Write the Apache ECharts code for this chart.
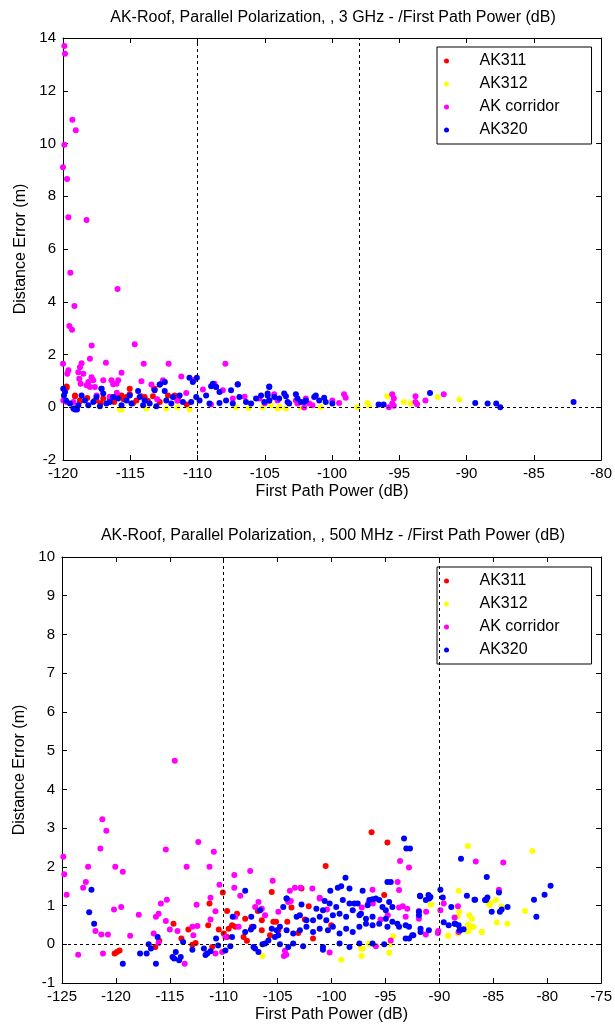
<!DOCTYPE html>
<html>
<head>
<meta charset="utf-8">
<script src="https://cdn.jsdelivr.net/npm/echarts@6/dist/echarts.min.js"></script>
<style>
	html, body { margin: 0; padding: 0; background: #fff; }
	#main { width: 615px; height: 1028px; }
</style>
</head>
<body>
<div id="main"></div>
<script>
var names = ['AK311', 'AK312', 'AK corridor', 'AK320'];
var colors = ['#ff0000', '#ffff00', '#ff00ff', '#0000ff'];

// 3 GHz plot
var top311 = [[-119.73,0.79],[-119.11,0.42],[-118.74,0.26],[-117.51,0.26],[-117.01,0.33],[-116.52,0.33],[-116.02,0.39],[-115.65,0.45],
	[-115.28,0.39],[-115.04,0.7],[-114.54,0.26],[-113.93,0.39],[-113.31,0.42],[-113.19,0.7],[-112.81,0.2],[-111.7,0.39],[-111.46,0.33],
	[-115.04,0.49],[-118.74,0.23],[-117.63,0.26],[-116.52,0.39],[-113.23,0.7],[-111.7,0.45],[-119.11,0.45],[-119.73,0.74],
	[-118.2,0.35],[-117.2,0.15],[-116.2,0.2],[-114.8,0.15],[-113.7,0.25],[-112.2,0.45],[-110.8,0.1],[-114.2,0.42],[-115.5,0.3]];
var top312 = [[-115.78,-0.09],[-113.8,-0.05],[-112.32,-0.05],[-110.6,-0.09],[-107.14,0.0],[-105.16,0.0],[-104.54,0.08],[-104.05,-0.05],
	[-103.43,-0.05],[-102.32,0.0],[-100.84,0.0],[-98.12,0.0],[-97.38,0.16],[-97.26,0.08],[-95.9,0.42],[-94.67,0.2],[-94.17,0.14],
	[-92.15,0.39],[-90.54,0.29],[-115.65,-0.09],[-111.5,0.0],[-106.2,-0.03],[-103.9,0.02]];
var topCorridor = [[-119.9,13.7],[-119.85,13.4],[-119.3,10.9],[-119.05,10.5],[-119.9,9.95],[-120,9.1],[-119.7,8.65],[-119.6,7.2],[-118.25,7.1],
	[-119.45,5.1],[-115.95,4.48],[-119.15,3.84],[-119.53,3.08],[-119.33,2.94],[-117.87,2.34],[-114.67,2.39],
	[-120.0,1.65],[-119.6,1.4],[-119.68,1.27],[-118.62,1.67],[-118.74,1.52],[-118.86,1.33],[-118.49,1.27],[-118.79,1.08],[-118.69,0.89],
	[-118.0,1.84],[-116.81,1.69],[-115.65,1.31],[-114.0,1.65],[-112.15,1.65],[-117.88,1.14],[-117.75,1.02],[-118.12,0.96],[-118.0,0.77],
	[-117.63,0.77],[-118.25,0.83],[-117.01,1.02],[-116.4,1.02],[-116.27,0.87],[-115.9,1.02],[-116.02,0.89],[-114.17,0.99],[-113.43,0.86],
	[-112.57,1.02],[-112.44,0.96],[-111.21,1.17],[-110.22,1.04],[-109.6,0.67],[-107.93,1.65],[-108.74,0.89],[-108.62,0.77],[-108.12,0.64],
	[-119.98,0.26],[-119.73,0.2],[-119.23,0.2],[-116.52,0.39],[-110.84,0.54],[-107.38,0.33],[-105.41,0.33],
	[-117.5,0.45],[-116.0,0.55],[-113.0,0.3],[-111.5,0.25],[-106.5,0.4],[-105.0,0.15],[-109.0,0.1],
	[-104.3,0.49],[-104.05,0.26],[-102.69,0.26],[-102.57,0.14],[-101.95,0.33],[-102.07,-0.01],[-101.7,0.14],[-101.46,0.08],[-99.98,0.26],
	[-99.48,0.16],[-99.11,0.49],[-98.99,0.36],[-95.78,0.0],[-95.53,0.49],[-95.41,0.33],[-95.53,0.14],[-93.8,0.42],[-93.8,0.2],[-93.68,0.11],
	[-93.06,0.26],[-91.7,0.49],[-95.41,0.06]];
var top320 = [[-119.98,0.7],[-119.85,0.58],[-119.93,0.45],[-119.78,0.26],[-119.23,-0.05],[-119.11,-0.09],[-118.62,0.45],[-118.37,0.26],
	[-117.75,0.2],[-117.51,0.39],[-117.14,0.7],[-117.01,0.52],[-116.52,0.2],[-116.27,0.39],[-115.9,0.33],[-115.28,0.26],[-115.04,0.45],
	[-114.42,0.62],[-114.3,0.39],[-113.93,0.26],[-113.56,0.14],[-113.19,0.64],[-112.81,0.86],[-112.44,0.62],[-112.32,0.26],[-111.83,0.39],
	[-111.33,0.45],[-110.6,1.12],[-110.35,0.96],[-110.05,1.12],[-110.47,0.2],[-110.1,0.39],[-109.85,0.26],[-109.36,0.45],[-108.86,0.89],
	[-108.62,0.77],[-108.37,0.58],[-107.88,0.26],[-107.51,0.64],[-107.01,0.87],[-106.89,0.39],[-106.4,0.2],[-105.65,0.33],[-105.28,0.45],
	[-104.79,0.52],[-104.67,0.26],[-119.48,0.14],[-118.86,0.08],[-118.12,0.08],[-117.26,0.04],[-116.77,0.14],[-115.65,0.08],[-114.91,0.14],
	[-114.05,0.08],[-113.06,0.04],[-111.95,0.14],[-111.09,0.2],[-109.11,0.14],[-108.37,0.16],[-107.38,0.14],[-106.02,0.14],[-105.04,0.2],
	[-118.96,-0.09],[-119.11,-0.05],[-117.14,0.7],[-112.81,0.86],[-112.44,0.96],[-108.99,0.8],[-107.01,0.86],[-104.67,0.77],
	[-104.67,0.79],[-104.79,0.45],[-104.67,0.26],[-104.3,0.39],[-103.93,0.33],[-103.56,0.52],[-103.43,0.42],[-103.31,0.2],[-103.19,0.14],
	[-102.69,0.49],[-102.57,0.33],[-102.32,0.2],[-102.07,0.2],[-101.95,0.26],[-101.33,0.39],[-101.21,0.45],[-100.96,0.26],[-100.59,0.36],
	[-100.47,0.2],[-99.98,0.14],[-96.54,0.1],[-96.17,0.1],[-92.72,0.54],[-89.36,0.16],[-88.44,0.14],[-87.8,0.14],[-87.5,0.0],[-82.05,0.2]];

// 500 MHz plot
var bot311 = [[-120.12,-0.24],[-119.91,-0.2],[-119.66,-0.16],[-115.98,0.09],[-116.35,-0.07],[-114.66,0.53],[-113.93,0.15],[-113.28,0.38],
	[-112.91,-0.01],[-112.61,0.03],[-111.44,0.49],[-111.32,1.05],[-110.09,1.34],[-110.46,0.38],[-110.0,0.28],[-109.69,0.19],[-109.54,0.4],
	[-109.23,0.49],[-108.93,0.45],[-109.69,0.86],[-108.77,0.79],[-108.16,0.19],[-108.01,0.66],[-107.85,0.09],[-107.39,0.45],[-106.84,0.86],
	[-106.47,0.62],[-106.47,0.36],[-105.55,1.35],[-105.4,0.58],[-104.94,0.36],[-105.71,0.23],[-111.07,-0.07],
	[-96.29,2.89],[-94.82,2.63],[-100.55,2.02],[-102.79,1.44],[-102.12,0.98],[-103.72,0.95],[-95.12,1.27],[-104.11,0.58],[-102.48,0.64],
	[-103.09,0.29],[-100.03,0.49],[-101.72,0.15],[-105.15,0.58]];
var bot312 = [[-106.41,-0.3],[-99.11,-0.4],[-97.21,-0.3],[-97.27,-0.11],[-97.12,-0.11],[-94.66,-0.22],[-94.57,0.0],[-96.5,0.0],
	[-90.83,1.03],[-88.22,1.38],[-87.36,2.54],[-88.31,0.72],[-88.16,0.84],[-87.24,0.75],[-86.99,0.66],[-87.36,0.49],[-87.3,0.34],
	[-86.84,0.45],[-86.07,0.32],[-89.2,0.22],[-88.28,0.28],[-85.46,1.05],[-94.29,0.21],[-81.38,2.41],[-87.33,0.51],[-86.9,0.45],
	[-87.45,0.34],[-86.07,0.32],[-89.17,0.22],[-85.34,1.01],[-85.25,1.07],[-84.75,1.14],[-84.23,0.98],[-84.69,0.56],[-83.71,0.53],
	[-82.06,0.86],[-90.75,1.03],[-96.5,0.02]];
var botCorridor = [[-114.54,4.74],[-121.26,3.23],[-120.89,2.93],[-124.88,2.26],[-121.44,2.47],[-115.37,2.45],[-112.36,2.64],[-110.92,2.39],
	[-124.79,1.81],[-122.58,2.0],[-120.06,2.0],[-119.36,1.87],[-113.44,2.0],[-111.32,2.0],[-122.79,1.61],[-123.04,1.46],[-124.57,1.28],
	[-110.4,1.54],[-109.02,1.79],[-109.02,1.46],[-107.55,1.89],[-108.47,1.25],[-105.46,1.64],[-111.23,1.2],[-112.52,1.02],[-115.28,1.15],
	[-115.83,1.05],[-116.04,0.79],[-116.29,0.71],[-120.18,0.9],[-119.51,0.96],[-117.88,0.76],[-115.37,0.6],[-115.0,0.38],[-114.29,0.34],
	[-111.23,0.64],[-110.77,0.85],[-121.9,0.34],[-121.35,0.25],[-120.74,0.25],[-118.68,0.22],[-116.5,0.28],[-112.91,0.45],[-112.45,0.47],
	[-112.82,0.23],[-123.5,-0.27],[-121.2,-0.24],[-113.62,-0.5],[-110.15,-0.2],[-110.77,-0.24],[-104.94,0.84],[-108.93,0.71],[-107.09,0.96],
	[-106.78,1.09],[-106.47,0.92],[-106.17,0.75],[-108.62,0.45],[-109.85,0.19],[-116.04,0.03],[-104.2,-0.27],[-103.4,1.46],[-102.88,1.46],
	[-101.1,1.2],[-93.65,2.15],[-92.82,1.98],[-93.87,1.61],[-93.74,1.4],[-96.2,1.41],[-103.87,1.38],[-101.78,1.44],[-101.1,1.18],
	[-100.43,0.9],[-103.78,1.12],[-104.02,1.09],[-96.17,1.05],[-95.46,0.64],[-94.79,0.75],[-93.4,0.98],[-93.74,0.95],[-93.13,0.71],
	[-92.98,0.92],[-91.9,0.86],[-91.9,0.66],[-91.23,0.84],[-100.18,-0.21],[-104.33,-0.17],[-104.42,-0.3],[-95.89,-0.05],[-94.51,0.1],
	[-90.15,0.29],[-89.91,0.88],[-89.6,1.05],[-88.59,0.69],[-88.28,0.98],[-86.63,2.14],[-97.2,0.95],[-96.6,1.05],[-84.08,2.11],
	[-84.48,1.41],[-88.22,0.32],[-91.26,0.25],[-90.1,0.34]];
var bot320 = [[-122.27,1.41],[-122.48,0.83],[-122.02,0.53],[-119.36,-0.5],[-117.76,-0.24],[-117.15,-0.24],[-116.96,0.0],[-116.75,-0.11],
	[-116.29,-0.5],[-116.13,0.19],[-114.75,-0.33],[-114.45,-0.2],[-114.6,-0.37],[-114.14,-0.41],[-113.99,-0.33],[-113.77,0.06],[-112.91,-0.14],
	[-111.84,-0.11],[-111.53,-0.24],[-111.23,-0.18],[-111.69,-0.28],[-110.71,0.15],[-110.52,-0.03],[-109.85,-0.16],[-109.39,-0.05],
	[-109.23,0.19],[-109.17,0.71],[-108.01,1.38],[-108.01,0.32],[-107.48,0.38],[-107.24,0.45],[-106.63,0.88],[-107.45,0.71],[-107.24,-0.07],
	[-107.09,-0.11],[-106.78,-0.2],[-106.41,0.0],[-106.17,0.02],[-105.86,0.1],[-105.55,0.4],[-105.09,0.36],[-105.25,0.19],[-104.94,0.23],
	[-104.17,1.18],[-93.28,2.73],[-93.07,2.47],[-92.73,2.47],[-94.82,1.61],[-94.51,1.61],[-98.71,1.72],[-98.34,1.44],[-99.42,1.46],
	[-99.11,1.5],[-100.12,1.38],[-100.64,1.12],[-97.12,1.38],[-96.2,1.16],[-96.5,1.14],[-96.66,1.01],[-95.89,1.18],[-95.28,0.96],[-95.58,1.14],
	[-94.97,0.88],[-94.66,1.09],[-94.36,0.96],[-102.79,1.03],[-104.17,1.18],[-104.48,0.96],[-101.41,0.92],[-100.8,0.88],[-100.18,1.05],
	[-99.57,0.96],[-98.96,1.14],[-98.34,1.05],[-98.04,0.88],[-97.88,1.05],[-97.58,1.05],[-97.27,0.79],[-103.24,0.71],[-102.94,0.75],
	[-102.33,0.62],[-101.72,0.62],[-101.1,0.71],[-100.49,0.62],[-99.88,0.75],[-99.26,0.79],[-98.65,0.71],[-97.42,0.75],[-96.81,0.66],
	[-96.2,0.71],[-94.97,0.66],[-94.36,0.58],[-93.9,0.53],[-93.74,0.45],[-104.79,0.45],[-104.17,0.36],[-103.56,0.28],[-102.94,0.36],
	[-102.33,0.45],[-101.72,0.32],[-101.1,0.4],[-100.34,0.36],[-99.88,0.45],[-99.26,0.28],[-98.65,0.4],[-98.04,0.32],[-97.42,0.45],
	[-96.81,0.53],[-96.2,0.49],[-95.58,0.53],[-94.82,0.45],[-93.13,0.49],[-92.82,0.45],[-91.9,0.75],[-91.75,0.4],[-90.98,0.36],[-92.52,0.23],
	[-93.13,0.15],[-104.79,0.0],[-104.02,-0.07],[-103.56,0.02],[-102.64,-0.05],[-100.8,-0.07],[-100.8,-0.14],[-99.26,0.02],[-98.34,-0.07],
	[-97.42,0.02],[-96.2,0.02],[-95.12,0.0],[-91.78,1.24],[-91.26,1.14],[-90.95,1.18],[-91.01,1.27],[-89.91,1.41],[-89.69,1.21],[-88.9,0.96],
	[-89.14,0.49],[-88.59,0.53],[-88.22,0.49],[-88.07,0.36],[-88.0,2.21],[-87.45,1.25],[-86.75,1.15],[-85.77,1.14],[-85.61,1.74],
	[-85.67,1.14],[-85.55,1.21],[-85.15,0.84],[-84.48,1.34],[-84.39,0.84],[-84.23,0.9],[-83.68,0.96],[-81.23,1.15],[-81.01,0.71],
	[-80.25,1.28],[-79.69,1.51],[-89.6,0.57],[-88.53,0.53],[-88.13,0.36],[-87.76,0.39],[-86.69,1.15],[-91.81,1.25],[-90.83,1.22],
	[-91.9,0.84],[-91.75,0.32],[-92.42,0.23],[-92.82,0.15]];

var topTitle = 'AK-Roof, Parallel Polarization, , 3 GHz - /First Path Power (dB)';
var botTitle = 'AK-Roof, Parallel Polarization, , 500 MHz - /First Path Power (dB)';
var xName = 'First Path Power (dB)';
var yName = 'Distance Error (m)';
var topVLines = [-110, -98];
var botVLines = [-110, -90];

var font = "'Liberation Sans', Arial, sans-serif";

function mainX(grid, min, max) {
	return {
		type : 'value', gridIndex : grid, min : min, max : max, interval : 5,
		name : xName, nameLocation : 'middle', nameGap : 24,
		nameTextStyle : { color : '#000', fontSize : 16, fontFamily : font },
		axisLine : { onZero : false, lineStyle : { color : '#000', width : 1 } },
		axisTick : { inside : true, length : 5, lineStyle : { color : '#000' } },
		axisLabel : { color : '#000', fontSize : 15, fontFamily : font, margin : 6, showMinLabel : true, showMaxLabel : true },
		splitLine : { show : false }
	};
}
function boxX(grid, min, max) {
	return {
		type : 'value', gridIndex : grid, min : min, max : max, interval : 5, position : 'top',
		axisLine : { onZero : false, lineStyle : { color : '#000', width : 1 } },
		axisTick : { inside : true, length : 5, lineStyle : { color : '#000' } },
		axisLabel : { show : false }, splitLine : { show : false }
	};
}
function mainY(grid, min, max, step) {
	return {
		type : 'value', gridIndex : grid, min : min, max : max, interval : step,
		name : yName, nameLocation : 'middle', nameGap : 33,
		nameTextStyle : { color : '#000', fontSize : 16, fontFamily : font },
		axisLine : { show : true, onZero : false, lineStyle : { color : '#000', width : 1 } },
		axisTick : { show : true, inside : true, length : 5, lineStyle : { color : '#000' } },
		axisLabel : { color : '#000', fontSize : 15, fontFamily : font, margin : 7, showMinLabel : true, showMaxLabel : true },
		splitLine : { show : false }
	};
}
function boxY(grid, min, max, step) {
	return {
		type : 'value', gridIndex : grid, min : min, max : max, interval : step, position : 'right',
		axisLine : { show : true, onZero : false, lineStyle : { color : '#000', width : 1 } },
		axisTick : { show : true, inside : true, length : 5, lineStyle : { color : '#000' } },
		axisLabel : { show : false }, splitLine : { show : false }
	};
}
function dashLines(vals) {
	var d = [];
	for (var i = 0; i < vals.length; i++) {
		d.push({ xAxis : vals[i] });
	}
	d.push({ yAxis : 0 });
	return {
		silent : true, symbol : 'none', animation : false,
		label : { show : false },
		lineStyle : { color : '#000', type : [3, 3], width : 1 },
		data : d
	};
}
function scatter(idx, data, xi, yi, lines) {
	var s = {
		name : names[idx], type : 'scatter', xAxisIndex : xi, yAxisIndex : yi,
		symbol : 'circle', symbolSize : 6,
		itemStyle : { color : colors[idx], opacity : 1 },
		data : data
	};
	if (lines) s.markLine = dashLines(lines);
	return s;
}
function legendAt(top) {
	return {
		orient : 'vertical', left : 437, top : top, data : names,
		backgroundColor : '#fff', borderColor : '#000', borderWidth : 1,
		padding : [6, 32, 6, 7], itemGap : 7, itemWidth : 56, itemHeight : 5,
		icon : 'circle',
		textStyle : { color : '#000', fontSize : 16, fontFamily : font }
	};
}

var mycharts = echarts.init(document.getElementById('main'));
var option = {
	animation : false,
	backgroundColor : '#fff',
	title : [
		{ text : topTitle, left : 333, top : 10, textAlign : 'center', padding : 0,
			textStyle : { color : '#000', fontSize : 16, fontWeight : 'normal', fontFamily : font } },
		{ text : botTitle, left : 333, top : 528, textAlign : 'center', padding : 0,
			textStyle : { color : '#000', fontSize : 16, fontWeight : 'normal', fontFamily : font } }
	],
	legend : [legendAt(47), legendAt(567)],
	grid : [
		{ left : 63, top : 38, width : 540, height : 422 },
		{ left : 62, top : 557, width : 542, height : 426 }
	],
	xAxis : [mainX(0, -120, -80), boxX(0, -120, -80), mainX(1, -125, -75), boxX(1, -125, -75)],
	yAxis : [mainY(0, -2, 14, 2), boxY(0, -2, 14, 2), mainY(1, -1, 10, 1), boxY(1, -1, 10, 1)],
	series : [
		scatter(0, top311, 0, 0, topVLines),
		scatter(1, top312, 0, 0),
		scatter(2, topCorridor, 0, 0),
		scatter(3, top320, 0, 0),
		scatter(0, bot311, 2, 2, botVLines),
		scatter(1, bot312, 2, 2),
		scatter(2, botCorridor, 2, 2),
		scatter(3, bot320, 2, 2)
	]
};
mycharts.setOption(option);
</script>
</body>
</html>
